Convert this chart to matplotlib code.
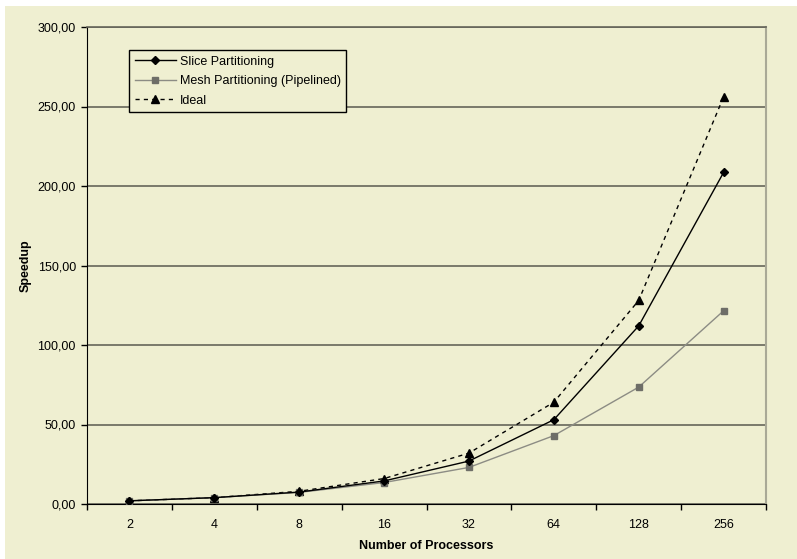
import matplotlib
matplotlib.use("Agg")
import matplotlib.pyplot as plt
from matplotlib.patches import Rectangle
from matplotlib.ticker import FuncFormatter, FixedLocator

plt.rcParams['font.family'] = ['Liberation Sans', 'DejaVu Sans']

# data
processors = ['2', '4', '8', '16', '32', '64', '128', '256']
slice_speedup = [2.0, 4.0, 7.5, 14.5, 27.0, 53.0, 112.0, 208.5]
mesh_speedup = [2.0, 4.0, 7.3, 13.5, 23.0, 43.0, 73.5, 121.5]
ideal_speedup = [2, 4, 8, 16, 32, 64, 128, 256]

BG = '#efefd1'
GRID = '#65655a'

W, H = 797, 559
fig = plt.figure(figsize=(W / 100, H / 100), dpi=100, facecolor='white')
# chart area background (white margin at top/left like the original)
fig.patches.append(Rectangle((5 / W, 0), 1 - 5 / W, 1 - 6 / H, transform=fig.transFigure,
                             facecolor=BG, edgecolor='none', zorder=-10))

ax = fig.add_axes([87 / W, (H - 504) / H, (766 - 87) / W, (504 - 27) / H])
ax.set_zorder(1)
ax.set_facecolor(BG)

x = list(range(1, len(processors) + 1))
ax.plot(x, ideal_speedup, color='black', linestyle=(0, (3, 3)), linewidth=1,
        marker='^', markersize=6, label='Ideal', zorder=3)
ax.plot(x, mesh_speedup, color='#8c8c84', linewidth=1,
        marker='s', markersize=5, markerfacecolor='#6e6e68', markeredgecolor='#6e6e68',
        label='Mesh Partitioning (Pipelined)', zorder=3)
ax.plot(x, slice_speedup, color='black', linewidth=1,
        marker='D', markersize=4.5, label='Slice Partitioning', zorder=4)

ax.set_xlim(0.5, len(processors) + 0.5)
ax.set_ylim(0, 300)

# category axis: ticks between categories, labels at centres
ax.xaxis.set_major_locator(FixedLocator([i + 0.5 for i in range(0, len(processors) + 1)]))
ax.xaxis.set_minor_locator(FixedLocator(x))
ax.set_xticklabels([], minor=False)
ax.set_xticklabels(processors, minor=True)
ax.tick_params(axis='x', which='major', length=4, width=1, direction='out', color='black')
ax.tick_params(axis='x', which='minor', length=0, pad=11, labelsize=9)

ax.set_yticks(range(0, 301, 50))
ax.yaxis.set_major_formatter(FuncFormatter(lambda v, p: f"{v:.2f}".replace('.', ',')))
ax.tick_params(axis='y', length=4, width=1, direction='out', color='black', labelsize=9, pad=4)

ax.grid(axis='y', color=GRID, linewidth=1.2, zorder=1)
ax.set_axisbelow(True)

ax.spines['left'].set_color('black')
ax.spines['bottom'].set_color('black')
ax.spines['top'].set_color(GRID)
ax.spines['top'].set_linewidth(1.2)
ax.spines['right'].set_color('#a9a996')
ax.spines['right'].set_linewidth(1.5)

ax.set_xlabel('Number of Processors', fontsize=9, fontweight='bold', labelpad=6)
ax.set_ylabel('Speedup', fontsize=9, fontweight='bold', labelpad=4)

handles, labels = ax.get_legend_handles_labels()
order = [2, 1, 0]
leg = ax.legend([handles[i] for i in order], [labels[i] for i in order],
                loc='upper left', bbox_to_anchor=(0.062, 0.952), borderaxespad=0,
                fancybox=False, framealpha=1, facecolor=BG, edgecolor='black',
                fontsize=9, handlelength=3.3, handletextpad=0.3, borderpad=0.45,
                labelspacing=0.6)
leg.get_frame().set_linewidth(1)

fig.savefig('out.png', dpi=100, facecolor='white')
